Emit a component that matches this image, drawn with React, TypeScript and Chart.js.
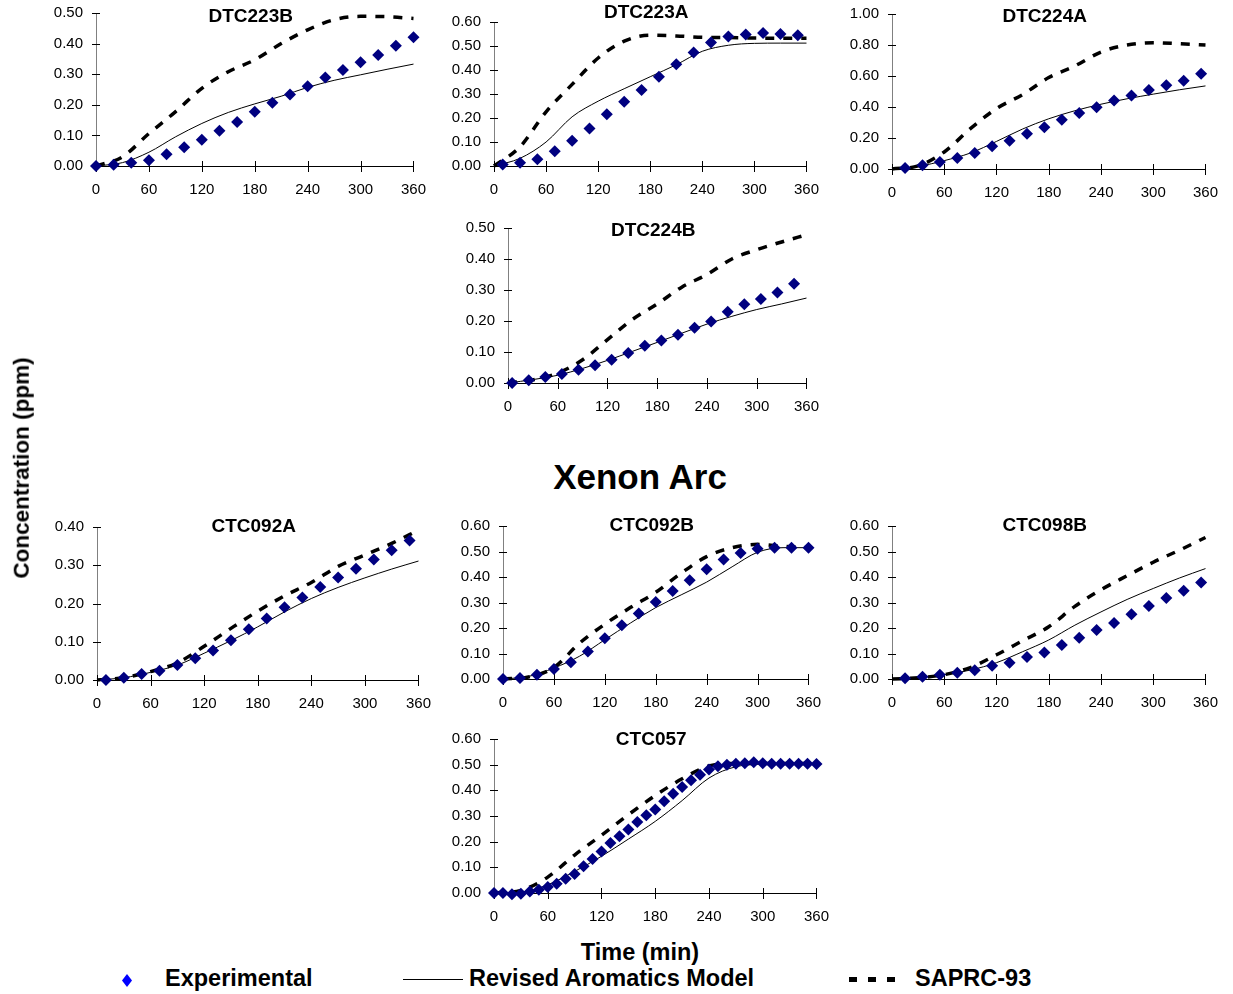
import React, { useEffect, useRef } from "react";
import { Chart, registerables } from "chart.js";

Chart.register(...registerables);

// ---------- data ----------
const T_MODEL = [0, 30, 60, 90, 120, 150, 180, 210, 240, 270, 300, 330, 360];

// DTC223B
const T_DTC223B_EXP = [0, 20, 40, 60, 80, 100, 120, 140, 160, 180, 200, 220, 240, 260, 280, 300, 320, 340, 360];
const Y_DTC223B_EXP = [0.0, 0.004, 0.011, 0.019, 0.038, 0.061, 0.086, 0.115, 0.144, 0.177, 0.207, 0.234, 0.261, 0.289, 0.314, 0.339, 0.363, 0.393, 0.421];
const Y_DTC223B_REV = [0.0, 0.011, 0.045, 0.095, 0.139, 0.175, 0.203, 0.228, 0.257, 0.28, 0.298, 0.316, 0.333];
const Y_DTC223B_SAPRC = [0.0, 0.03, 0.106, 0.177, 0.254, 0.308, 0.347, 0.4, 0.445, 0.478, 0.489, 0.488, 0.482];

// DTC223A
const T_DTC223A_EXP = [10, 30, 50, 70, 90, 110, 130, 150, 170, 190, 210, 230, 250, 270, 290, 310, 330, 350];
const Y_DTC223A_EXP = [0.006, 0.014, 0.028, 0.061, 0.105, 0.156, 0.216, 0.268, 0.317, 0.372, 0.424, 0.473, 0.515, 0.54, 0.548, 0.554, 0.55, 0.545];
const Y_DTC223A_REV = [0.0, 0.032, 0.1, 0.205, 0.27, 0.322, 0.372, 0.422, 0.478, 0.503, 0.511, 0.512, 0.512];
const Y_DTC223A_SAPRC = [0.0, 0.08, 0.226, 0.34, 0.45, 0.52, 0.545, 0.542, 0.536, 0.535, 0.533, 0.532, 0.532];

// DTC224A
const T_DTC224A_EXP = [15, 35, 55, 75, 95, 115, 135, 155, 175, 195, 215, 235, 255, 275, 295, 315, 335, 355];
const Y_DTC224A_EXP = [0.006, 0.024, 0.045, 0.071, 0.103, 0.146, 0.182, 0.227, 0.27, 0.318, 0.361, 0.399, 0.442, 0.474, 0.509, 0.541, 0.569, 0.614];
const Y_DTC224A_REV = [0.0, 0.017, 0.054, 0.103, 0.178, 0.258, 0.324, 0.376, 0.418, 0.453, 0.483, 0.511, 0.536];
const Y_DTC224A_SAPRC = [0.0, 0.02, 0.11, 0.26, 0.39, 0.48, 0.59, 0.665, 0.755, 0.8, 0.815, 0.808, 0.8];

// DTC224B
const T_DTC224B_EXP = [5, 25, 45, 65, 85, 105, 125, 145, 165, 185, 205, 225, 245, 265, 285, 305, 325, 345];
const Y_DTC224B_EXP = [0.0, 0.009, 0.019, 0.029, 0.043, 0.057, 0.075, 0.097, 0.12, 0.137, 0.156, 0.178, 0.198, 0.23, 0.254, 0.271, 0.292, 0.32];
const Y_DTC224B_REV = [0.0, 0.011, 0.025, 0.047, 0.073, 0.102, 0.131, 0.161, 0.19, 0.215, 0.237, 0.255, 0.274];
const Y_DTC224B_SAPRC = [0.0, 0.01, 0.032, 0.075, 0.14, 0.205, 0.255, 0.31, 0.35, 0.4, 0.43, 0.455, 0.478];

// CTC092A
const T_CTC092A_EXP = [10, 30, 50, 70, 90, 110, 130, 150, 170, 190, 210, 230, 250, 270, 290, 310, 330, 350];
const Y_CTC092A_EXP = [0.0, 0.006, 0.016, 0.024, 0.039, 0.057, 0.077, 0.104, 0.133, 0.161, 0.19, 0.216, 0.243, 0.268, 0.291, 0.315, 0.339, 0.365];
const Y_CTC092A_REV = [0.0, 0.006, 0.02, 0.039, 0.07, 0.103, 0.139, 0.178, 0.213, 0.242, 0.267, 0.29, 0.311];
const Y_CTC092A_SAPRC = [0.0, 0.006, 0.022, 0.045, 0.088, 0.135, 0.18, 0.22, 0.255, 0.297, 0.327, 0.357, 0.392];

// CTC092B
const T_CTC092B_EXP = [0, 20, 40, 60, 80, 100, 120, 140, 160, 180, 200, 220, 240, 260, 280, 300, 320, 340, 360];
const Y_CTC092B_EXP = [0.0, 0.004, 0.017, 0.039, 0.066, 0.108, 0.16, 0.211, 0.257, 0.302, 0.345, 0.387, 0.43, 0.469, 0.494, 0.511, 0.515, 0.515, 0.515];
const Y_CTC092B_REV = [0.0, 0.01, 0.043, 0.089, 0.154, 0.219, 0.28, 0.33, 0.38, 0.44, 0.497, 0.515, 0.515];
const Y_CTC092B_SAPRC = [0.0, 0.008, 0.045, 0.14, 0.215, 0.28, 0.34, 0.415, 0.48, 0.515, 0.528, 0.52, 0.515];

// CTC098B
const T_CTC098B_EXP = [15, 35, 55, 75, 95, 115, 135, 155, 175, 195, 215, 235, 255, 275, 295, 315, 335, 355];
const Y_CTC098B_EXP = [0.003, 0.009, 0.017, 0.025, 0.034, 0.052, 0.064, 0.086, 0.104, 0.133, 0.162, 0.192, 0.22, 0.254, 0.286, 0.318, 0.346, 0.378];
const Y_CTC098B_REV = [0.0, 0.005, 0.017, 0.035, 0.064, 0.107, 0.153, 0.211, 0.263, 0.312, 0.355, 0.396, 0.433];
const Y_CTC098B_SAPRC = [0.0, 0.005, 0.017, 0.045, 0.095, 0.15, 0.205, 0.285, 0.35, 0.405, 0.458, 0.505, 0.555];

// CTC057
const T_CTC057_EXP = [0, 10, 20, 30, 40, 50, 60, 70, 80, 90, 100, 110, 120, 130, 140, 150, 160, 170, 180, 190, 200, 210, 220, 230, 240, 250, 260, 270, 280, 290, 300, 310, 320, 330, 340, 350, 360];
const Y_CTC057_EXP = [0.0, 0.0, -0.005, -0.003, 0.006, 0.013, 0.023, 0.036, 0.056, 0.074, 0.104, 0.132, 0.162, 0.195, 0.221, 0.247, 0.277, 0.303, 0.325, 0.357, 0.387, 0.413, 0.439, 0.461, 0.481, 0.494, 0.5, 0.504, 0.506, 0.509, 0.506, 0.504, 0.504, 0.504, 0.504, 0.504, 0.503];
const Y_CTC057_REV = [0.0, 0.003, 0.032, 0.084, 0.143, 0.21, 0.279, 0.36, 0.448, 0.492, 0.502, 0.503, 0.503];
const Y_CTC057_SAPRC = [0.0, 0.01, 0.062, 0.148, 0.225, 0.305, 0.38, 0.445, 0.495, 0.505, 0.505, 0.505, 0.505];

const X_TICK_STEP = 60;
const LEGEND_LABELS = ["Experimental", "Revised Aromatics Model", "SAPRC-93"];

// ---------- layout ----------
const FONT = '"Liberation Sans", Arial, Helvetica, sans-serif';
const PAD_L = 70;
const PAD_T = 25;
const PAD_R = 25;
const X_AXIS_H = 40;

type Panel = {
  title: string;
  tExp: number[];
  yExp: number[];
  yRev: number[];
  ySaprc: number[];
  ymax: number;
  step: number;
  x0: number;
  x1: number;
  yTop: number;
  yBot: number;
  titleY: number;
};

const PANELS: Panel[] = [
  { title: "DTC223B", tExp: T_DTC223B_EXP, yExp: Y_DTC223B_EXP, yRev: Y_DTC223B_REV, ySaprc: Y_DTC223B_SAPRC, ymax: 0.5, step: 0.1, x0: 96, x1: 416, yTop: 13, yBot: 166, titleY: 17 },
  { title: "DTC223A", tExp: T_DTC223A_EXP, yExp: Y_DTC223A_EXP, yRev: Y_DTC223A_REV, ySaprc: Y_DTC223A_SAPRC, ymax: 0.6, step: 0.1, x0: 494, x1: 809, yTop: 22, yBot: 166, titleY: 13 },
  { title: "DTC224A", tExp: T_DTC224A_EXP, yExp: Y_DTC224A_EXP, yRev: Y_DTC224A_REV, ySaprc: Y_DTC224A_SAPRC, ymax: 1.0, step: 0.2, x0: 892, x1: 1208, yTop: 14, yBot: 169, titleY: 17 },
  { title: "DTC224B", tExp: T_DTC224B_EXP, yExp: Y_DTC224B_EXP, yRev: Y_DTC224B_REV, ySaprc: Y_DTC224B_SAPRC, ymax: 0.5, step: 0.1, x0: 508, x1: 809, yTop: 228, yBot: 383, titleY: 231 },
  { title: "CTC092A", tExp: T_CTC092A_EXP, yExp: Y_CTC092A_EXP, yRev: Y_CTC092A_REV, ySaprc: Y_CTC092A_SAPRC, ymax: 0.4, step: 0.1, x0: 97, x1: 421, yTop: 527, yBot: 680, titleY: 527 },
  { title: "CTC092B", tExp: T_CTC092B_EXP, yExp: Y_CTC092B_EXP, yRev: Y_CTC092B_REV, ySaprc: Y_CTC092B_SAPRC, ymax: 0.6, step: 0.1, x0: 503, x1: 811, yTop: 526, yBot: 679, titleY: 526 },
  { title: "CTC098B", tExp: T_CTC098B_EXP, yExp: Y_CTC098B_EXP, yRev: Y_CTC098B_REV, ySaprc: Y_CTC098B_SAPRC, ymax: 0.6, step: 0.1, x0: 892, x1: 1208, yTop: 526, yBot: 679, titleY: 526 },
  { title: "CTC057", tExp: T_CTC057_EXP, yExp: Y_CTC057_EXP, yRev: Y_CTC057_REV, ySaprc: Y_CTC057_SAPRC, ymax: 0.6, step: 0.1, x0: 494, x1: 819, yTop: 739, yBot: 893, titleY: 740 },
];

const axisDecor = {
  id: "axisDecor",
  beforeDatasetsDraw(chart: any, _args: any, opts: any) {
    const { ctx, chartArea } = chart;
    const x = chart.scales.x;
    const y = chart.scales.y;
    ctx.save();
    ctx.strokeStyle = "#000";
    ctx.lineWidth = 1;
    y.ticks.forEach((t: any) => {
      const py = Math.round(y.getPixelForValue(t.value)) + 0.5;
      ctx.beginPath();
      ctx.moveTo(chartArea.left - 4, py);
      ctx.lineTo(chartArea.left + 4, py);
      ctx.stroke();
    });
    x.ticks.forEach((t: any) => {
      const px = Math.round(x.getPixelForValue(t.value)) + 0.5;
      ctx.beginPath();
      ctx.moveTo(px, chartArea.bottom - 5);
      ctx.lineTo(px, chartArea.bottom + 6);
      ctx.stroke();
    });
    ctx.fillStyle = "#000";
    ctx.font = `15px ${FONT}`;
    ctx.textAlign = "right";
    ctx.textBaseline = "middle";
    y.ticks.forEach((t: any) => {
      ctx.fillText(Number(t.value).toFixed(2), chartArea.left - 13, y.getPixelForValue(t.value));
    });
    ctx.font = `bold 19px ${FONT}`;
    ctx.textAlign = "center";
    ctx.fillText(opts.title, (chartArea.left + chartArea.right) / 2 - 4, opts.titleY);
    ctx.restore();
  },
};

function PanelChart({ p }: { p: Panel }) {
  const ref = useRef<HTMLCanvasElement | null>(null);
  const w = p.x1 - p.x0 + PAD_L + PAD_R;
  const h = p.yBot - p.yTop + PAD_T + X_AXIS_H;
  const left = p.x0 - PAD_L;
  const top = p.yTop - PAD_T;

  useEffect(() => {
    if (!ref.current) return;
    const chart = new Chart(ref.current, {
      type: "scatter",
      data: {
        datasets: [
          {
            label: LEGEND_LABELS[0],
            data: p.tExp.map((t, i) => ({ x: t, y: p.yExp[i] })),
            pointStyle: "rectRot",
            pointRadius: 6,
            pointBackgroundColor: "#000080",
            pointBorderColor: "#000080",
            pointBorderWidth: 0,
            showLine: false,
            clip: false,
          } as any,
          {
            label: LEGEND_LABELS[1],
            data: T_MODEL.map((t, i) => ({ x: t, y: p.yRev[i] })),
            showLine: true,
            pointRadius: 0,
            borderColor: "#000",
            borderWidth: 1,
            cubicInterpolationMode: "monotone",
            clip: false,
          } as any,
          {
            label: LEGEND_LABELS[2],
            data: T_MODEL.map((t, i) => ({ x: t, y: p.ySaprc[i] })),
            showLine: true,
            pointRadius: 0,
            borderColor: "#000",
            borderWidth: 3.5,
            borderDash: [9, 9],
            borderCapStyle: "butt",
            cubicInterpolationMode: "monotone",
            clip: false,
          } as any,
        ],
      },
      options: {
        animation: false,
        responsive: false,
        maintainAspectRatio: false,
        devicePixelRatio: 1,
        events: [],
        layout: { padding: { left: 0, top: PAD_T, right: PAD_R, bottom: 0 } },
        plugins: {
          legend: { display: false },
          tooltip: { enabled: false },
          title: { display: false },
          axisDecor: { title: p.title, titleY: p.titleY - top },
        } as any,
        scales: {
          x: {
            type: "linear",
            min: 0,
            max: 360,
            afterFit: (s: any) => {
              s.height = X_AXIS_H;
            },
            ticks: {
              stepSize: X_TICK_STEP,
              color: "#000",
              font: { family: FONT, size: 15 },
              padding: 15,
              maxRotation: 0,
            },
            grid: { display: false, drawTicks: false },
            border: { display: true, color: "#000", width: 1 },
          },
          y: {
            type: "linear",
            min: 0,
            max: p.ymax,
            afterFit: (s: any) => {
              s.width = PAD_L;
            },
            ticks: { stepSize: p.step, display: false },
            grid: { display: false, drawTicks: false },
            border: { display: true, color: "#808080", width: 1 },
          },
        },
      },
      plugins: [axisDecor],
    });
    return () => chart.destroy();
  }, []);

  return (
    <canvas
      ref={ref}
      width={w}
      height={h}
      style={{ position: "absolute", left, top, width: w, height: h }}
    />
  );
}

const textBase: React.CSSProperties = {
  position: "absolute",
  fontFamily: FONT,
  fontWeight: "bold",
  color: "#000",
  whiteSpace: "nowrap",
  lineHeight: 1,
};

export default function App() {
  return (
    <div style={{ position: "absolute", left: 0, top: 0, width: 1233, height: 994, background: "#fff", overflow: "hidden" }}>
      {PANELS.map((p) => (
        <PanelChart key={p.title} p={p} />
      ))}
      <div style={{ ...textBase, left: 640, top: 476, fontSize: 35, transform: "translate(-50%, -50%)" }}>Xenon Arc</div>
      <div style={{ ...textBase, left: 22, top: 468, fontSize: 22.5, transform: "translate(-50%, -50%) rotate(-90deg)" }}>
        Concentration (ppm)
      </div>
      <div style={{ ...textBase, left: 640, top: 953, fontSize: 23.5, transform: "translate(-50%, -50%)" }}>Time (min)</div>
      {/* legend */}
      <div
        style={{
          position: "absolute",
          left: 122,
          top: 974,
          width: 10,
          height: 13,
          background: "#0000FF",
          clipPath: "polygon(50% 0, 100% 50%, 50% 100%, 0 50%)",
        }}
      />
      <div style={{ ...textBase, left: 165, top: 979, fontSize: 23.5, transform: "translateY(-50%)" }}>{LEGEND_LABELS[0]}</div>
      <div style={{ position: "absolute", left: 403, top: 979, width: 60, height: 1, background: "#000" }} />
      <div style={{ ...textBase, left: 469, top: 979, fontSize: 23.5, transform: "translateY(-50%)" }}>{LEGEND_LABELS[1]}</div>
      <div style={{ position: "absolute", left: 849, top: 977, width: 8, height: 5, background: "#000" }} />
      <div style={{ position: "absolute", left: 868, top: 977, width: 8, height: 5, background: "#000" }} />
      <div style={{ position: "absolute", left: 887, top: 977, width: 8, height: 5, background: "#000" }} />
      <div style={{ ...textBase, left: 915, top: 979, fontSize: 23.5, transform: "translateY(-50%)" }}>{LEGEND_LABELS[2]}</div>
    </div>
  );
}
